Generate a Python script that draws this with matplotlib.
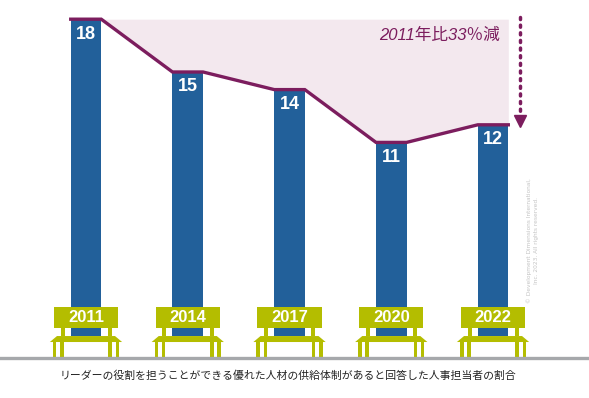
import matplotlib
matplotlib.use("Agg")
import matplotlib.pyplot as plt
from matplotlib.patches import Rectangle, Polygon

years = ["2011", "2014", "2017", "2020", "2022"]
values = [18, 15, 14, 11, 12]
caption = "リーダーの役割を担うことができる優れた人材の供給体制があると回答した人事担当者の割合"
note = "2011年比33％減"
copyright_txt = "© Development Dimensions International,\nInc. 2023. All rights reserved."

blue = "#22609a"
green = "#b4bd00"
purple = "#7c1d5e"
pink = "#f3e8ee"

jp = ["Noto Sans CJK JP", "DejaVu Sans"]
narrow = ["Liberation Sans Narrow", "Liberation Sans", "Noto Sans CJK JP"]

fig = plt.figure(figsize=(5.89, 3.98), dpi=100)
ax = fig.add_axes([0, 0, 1, 1])
ax.set_xlim(-0.845, 4.943)
ax.set_ylim(-3.52, 19.09)
ax.axis("off")

x = list(range(len(values)))
w = 0.30

# shaded gap above the line
xs, ys = [], []
for i, v in zip(x, values):
    xs += [i - w / 2, i + w / 2]
    ys += [v, v]
ax.fill_between(xs, ys, max(values), color=pink, lw=0, zorder=1)

ax.bar(x, values, width=w, color=blue, zorder=2)
ax.plot(xs, ys, color=purple, lw=2.4, solid_joinstyle="miter", zorder=3)

for i, v in zip(x, values):
    ax.text(i, v - 0.85, str(v), ha="center", va="center", color="white",
            fontsize=13, fontweight="bold", family=narrow, zorder=5)

# benches
for i, yr in zip(x, years):
    ax.add_patch(Rectangle((i - 0.315, 0.45), 0.63, 1.2, color=green, lw=0, zorder=4))
    for off in (-0.25, 0.215):
        ax.add_patch(Rectangle((i + off, 0), 0.04, 0.5, color=green, lw=0, zorder=4))
    ax.add_patch(Polygon([(i - 0.285, 0), (i + 0.285, 0), (i + 0.355, -0.34), (i - 0.355, -0.34)],
                         closed=True, color=green, lw=0, zorder=4))
    for off in (-0.325, -0.255, 0.22, 0.29):
        ax.add_patch(Rectangle((i + off, -1.22), 0.035, 0.9, color=green, lw=0, zorder=4))
    ax.text(i, 1.05, yr, ha="center", va="center", color="white",
            fontsize=12, fontweight="bold", family=narrow, zorder=5)

# ground line
ax.axhline(-1.25, color="#a6a8ab", lw=2.4, zorder=6)

# dotted arrow
ax.plot([4.265, 4.265], [18.1, 12.7], color=purple, lw=2.5,
        linestyle=(0, (0.6, 1.6)), dash_capstyle="round", zorder=3)
ax.plot([4.265], [12.2], marker="v", markersize=9, color=purple, zorder=3)

ax.text(3.47, 17.1, note, ha="center", va="center", color=purple,
        fontsize=12, style="italic", family=["Liberation Sans", "Noto Sans CJK JP"])

ax.text(4.39, 5.45, copyright_txt, rotation=90, ha="center", va="center",
        color="#c4c4c4", fontsize=4.2, linespacing=1.3)

ax.text(1.985, -2.27, caption, ha="center", va="center", color="#222222",
        fontsize=7.8, family=jp)

fig.savefig("out.png", dpi=100)
